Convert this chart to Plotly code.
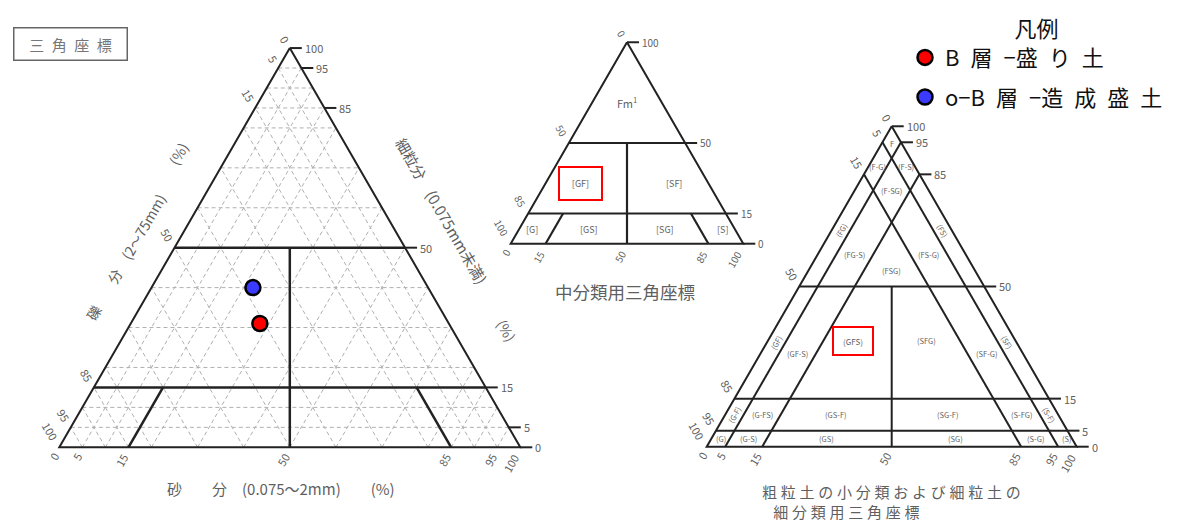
import numpy as np
import plotly.graph_objects as go

# plotted samples (large triangle)
sample_names = ["B\u2002層\u2002−盛\u2002り\u2002土", "o−B\u2002層\u2002−造\u2002成\u2002盛\u2002土"]
sample_colors = ["#ff0000", "#3b3bff"]
sample_gravel = [41, 38]
sample_sand = [28, 22]
sample_fines = [31, 40]

# dashed grid of the large triangle (%)
grid_pct = [5, 10, 15, 20, 30, 40, 50, 60, 70, 80, 85, 90, 95]

# tick labels of each triangle (%)
main_fines_ticks = [100, 95, 85, 50, 15, 5, 0]
main_gravel_ticks = [0, 5, 15, 50, 85, 95, 100]
main_sand_ticks = [0, 5, 15, 50, 85, 95, 100]
mid_fines_ticks = [100, 50, 15, 0]
mid_gravel_ticks = [0, 50, 85, 100]
mid_sand_ticks = [0, 15, 50, 85, 100]
sub_fines_ticks = [100, 95, 85, 50, 15, 5, 0]
sub_gravel_ticks = [0, 5, 15, 50, 85, 95, 100]
sub_sand_ticks = [0, 5, 15, 50, 85, 95, 100]

# class names of the medium classification triangle (label point: fines, sand)
mid_class_names = ["Fm<sup>1</sup>", "[GF]", "[SF]", "[G]", "[GS]", "[SG]", "[S]"]
mid_class_fines = [70, 30, 30, 7, 7, 7, 7]
mid_class_sand = [15, 15, 55, 5.5, 30, 63, 87.5]

# class names of the small classification triangle (label point: fines, sand)
sub_class_names = ["F", "(F-G)", "(F-S)", "(F-SG)", "(FG)", "(FG-S)", "(FSG)", "(FS-G)", "(FS)",
                   "(GF)", "(GF-S)", "(GFS)", "(SFG)", "(SF-G)", "(SF)",
                   "(G-F)", "(G-FS)", "(GS-F)", "(SG-F)", "(S-FG)", "(S-F)",
                   "(G)", "(G-S)", "(GS)", "(SG)", "(S-G)", "(S)"]
sub_class_fines = [94.5, 87.5, 87.5, 80, 67.5, 60, 55, 60, 67.5,
                   32.5, 29, 33, 33, 29, 32.5,
                   10, 10, 10, 10, 10, 10,
                   2.5, 2.5, 2.5, 2.5, 2.5, 2.5]
sub_class_sand = [2.75, 2.5, 10, 10, 2.5, 10, 22.5, 30, 30,
                  2.5, 10, 23, 43, 61, 65,
                  2.5, 10, 30, 60, 80, 87.5,
                  2.5, 10, 31, 66, 87.5, 96]

SQ = np.sqrt(3) / 2
W, H = 1186, 523
PAD = 8  # page body margin in the browser
FONT = "Noto Sans CJK JP"
INK = "#222222"
GREY = "#5f5f5f"

# screen placement: corner gravel=100 (x0, y0), side length k, subplot box (l, r, t, b)
TRI = {
    1: dict(x0=59.3, y0=447.3, k=461, box=(8, 560, 10, 515)),
    2: dict(x0=510.7, y0=243.7, k=232.6, box=(470, 790, 10, 300)),
    3: dict(x0=706.7, y0=446.7, k=370, box=(680, 1120, 100, 515)),
}


def tern(fines, sand):
    f = np.asarray(fines, dtype=float) / 100.0
    s = np.asarray(sand, dtype=float) / 100.0
    return s + f / 2.0, f * SQ


def fines_line(f):
    return ((f, 0), (f, 100 - f))


def sand_line(s):
    return ((0, s), (100 - s, s))


def gravel_line(g):
    return ((0, 100 - g), (100 - g, 0))


def seg_trace(pairs, n, color, width, dash=None):
    xs, ys = [], []
    for (f1, s1), (f2, s2) in pairs:
        x, y = tern([f1, f2], [s1, s2])
        xs += list(x) + [None]
        ys += list(y) + [None]
    ax = "" if n == 1 else str(n)
    return go.Scatter(x=xs, y=ys, mode="lines", xaxis="x" + ax, yaxis="y" + ax,
                      line=dict(color=color, width=width, dash=dash),
                      hoverinfo="skip", showlegend=False)


def outline(n, fines_ticks, width):
    k = TRI[n]["k"]
    x, y = tern([100, 0, 0, 100], [0, 0, 100, 0])
    xs, ys = list(x), list(y)
    for f in fines_ticks:
        tx, ty = tern(f, 100 - f)
        xs += [None, float(tx), float(tx) + 12 / k]
        ys += [None, float(ty), float(ty)]
    ax = "" if n == 1 else str(n)
    return go.Scatter(x=xs, y=ys, mode="lines", xaxis="x" + ax, yaxis="y" + ax,
                      line=dict(color=INK, width=width), hoverinfo="skip", showlegend=False)


annotations = []


def note(n, x, y, text, size, color=GREY, angle=0, **kw):
    ax = "" if n == 1 else str(n)
    annotations.append(dict(x=float(x), y=float(y), xref="x" + ax, yref="y" + ax,
                            text=text, showarrow=False, textangle=angle,
                            font=dict(size=size, color=color, family=FONT), **kw))


def tick_labels(n, fines_ticks, gravel_ticks, sand_ticks, size):
    k = TRI[n]["k"]
    for f in fines_ticks:
        x, y = tern(f, 100 - f)
        note(n, x + 13 / k, y, str(f), size, xanchor="left")
    for g in gravel_ticks:
        x, y = tern(100 - g, 0)
        d = (6 + 4.2 * len(str(g))) / k
        note(n, x - 0.5 * d, y + SQ * d, str(g), size, angle=60)
    for s in sand_ticks:
        x, y = tern(0, s)
        d = (6 + 4.2 * len(str(s))) / k
        note(n, x - 0.5 * d, y - SQ * d, str(s), size, angle=-60)


def off_left(n, f, dpx):
    k = TRI[n]["k"]
    x, y = tern(f, 0)
    return x - SQ * dpx / k, y + 0.5 * dpx / k


def off_right(n, f, dpx):
    k = TRI[n]["k"]
    x, y = tern(f, 100 - f)
    return x + SQ * dpx / k, y + 0.5 * dpx / k


def off_bottom(n, s, dpx):
    k = TRI[n]["k"]
    x, y = tern(0, s)
    return x, y - dpx / k


fig = go.Figure()

# ---- large triangle ----
grid_pairs = ([fines_line(p) for p in grid_pct if p not in (15, 50)]
              + [sand_line(p) for p in grid_pct] + [gravel_line(p) for p in grid_pct])
fig.add_trace(seg_trace(grid_pairs, 1, "#b0b0b0", 1, dash="4px,3px"))
fig.add_trace(seg_trace([fines_line(50), fines_line(15), ((50, 25), (0, 50)),
                         ((0, 15), (15, 15)), ((0, 85), (15, 70))], 1, INK, 2.5))
fig.add_trace(outline(1, main_fines_ticks, 2))
tick_labels(1, main_fines_ticks, main_gravel_ticks, main_sand_ticks, 11)

x, y = off_left(1, 43, 38)
note(1, x, y, "礫　　分　(2～75mm)", 14, angle=-60)
x, y = off_left(1, 68, 44)
note(1, x, y, "(%)", 14, angle=-60)
x, y = off_right(1, 53, 50)
note(1, x, y, "細粒分　(0.075mm未満)", 15, angle=60)
x, y = off_right(1, 23.5, 46)
note(1, x, y, "(%)", 14, angle=60)
x, y = off_bottom(1, 48, 41)
note(1, x, y, "砂　　分　(0.075～2mm)　　(%)", 15)

# samples
for i in range(len(sample_names)):
    x, y = tern(sample_fines[i], sample_sand[i])
    fig.add_trace(go.Scatter(
        x=[float(x)], y=[float(y)], mode="markers", name=sample_names[i],
        legendgroup=sample_names[i],
        marker=dict(size=15, color=sample_colors[i], line=dict(color="#000000", width=2.5)),
        hovertemplate="礫分 %{customdata[0]}%<br>砂分 %{customdata[1]}%<br>細粒分 %{customdata[2]}%<extra></extra>",
        customdata=[[sample_gravel[i], sample_sand[i], sample_fines[i]]]))

# ---- medium classification triangle ----
fig.add_trace(seg_trace([fines_line(50), fines_line(15), ((50, 25), (0, 50)),
                         ((0, 15), (15, 15)), ((0, 85), (15, 70))], 2, INK, 2.2))
fig.add_trace(outline(2, mid_fines_ticks, 2))
tick_labels(2, mid_fines_ticks, mid_gravel_ticks, mid_sand_ticks, 10)
for name, f, s in zip(mid_class_names, mid_class_fines, mid_class_sand):
    x, y = tern(f, s)
    if name == "[GF]":
        note(2, x, y, name, 9, bordercolor="#ff0000", borderwidth=2, borderpad=1,
             width=39, height=29)
    else:
        note(2, x, y, name, 11 if name.startswith("Fm") else 9)
x, y = off_bottom(2, 49, 48)
note(2, x, y, "中分類用三角座標", 17.5)

# ---- small classification triangle ----
fig.add_trace(seg_trace([fines_line(50), fines_line(15), fines_line(5), ((50, 25), (0, 50)),
                         sand_line(5), sand_line(15), gravel_line(5), gravel_line(15)],
                        3, INK, 2))
fig.add_trace(outline(3, sub_fines_ticks, 2))
tick_labels(3, sub_fines_ticks, sub_gravel_ticks, sub_sand_ticks, 11)
for name, f, s in zip(sub_class_names, sub_class_fines, sub_class_sand):
    x, y = tern(f, s)
    g = 100 - f - s
    angle = 0
    if s < 5 and 5 < f < 85:
        angle = -60
    if g < 5 and 5 < f < 85:
        angle = 60
    if name == "(GFS)":
        note(3, x, y, name, 8, bordercolor="#ff0000", borderwidth=2, borderpad=1,
             width=36, height=24)
    else:
        note(3, x, y, name, 7.5, angle=angle)
sp = "\u2005"
x, y = off_bottom(3, 14.4, 55)
note(3, x, y, sp.join("粗粒土の小分類および細粒土の") + "<br>" + sp * 3 + sp.join("細分類用三角座標"),
     15, xanchor="left", align="left")

# title box
annotations.append(dict(x=(70 - PAD) / W, y=1 - (44 - PAD) / H, xref="paper", yref="paper",
                        xanchor="center", yanchor="middle",
                        text="三\u2002角\u2002座\u2002標", showarrow=False,
                        font=dict(size=15, color="#777777", family=FONT),
                        bordercolor="#666666", borderwidth=1.5, borderpad=1,
                        width=110, height=29))

layout_axes = {}
for n, t in TRI.items():
    l, r, top, b = (v - PAD for v in t["box"])
    x0, y0, k = t["x0"] - PAD, t["y0"] - PAD, t["k"]
    ax = "" if n == 1 else str(n)
    layout_axes["xaxis" + ax] = dict(domain=[l / W, r / W],
                                     range=[(l - x0) / k, (r - x0) / k],
                                     visible=False, fixedrange=True)
    layout_axes["yaxis" + ax] = dict(domain=[(H - b) / H, (H - top) / H],
                                     range=[(y0 - b) / k, (y0 - top) / k],
                                     visible=False, fixedrange=True)

fig.update_layout(
    width=W, height=H,
    margin=dict(l=0, r=0, t=0, b=0, autoexpand=False),
    paper_bgcolor="#ffffff",
    plot_bgcolor="rgba(0,0,0,0)",
    font=dict(family=FONT, color=GREY),
    annotations=annotations,
    showlegend=True,
    legend=dict(x=(905 - PAD) / W, y=1.0, xanchor="left", yanchor="top",
                bgcolor="rgba(0,0,0,0)", tracegroupgap=8,
                font=dict(size=22, color="#111111", family=FONT),
                title=dict(text="凡例", side="top center",
                           font=dict(size=22, color="#111111", family=FONT))),
    **layout_axes,
)

fig.write_html("out.html")
